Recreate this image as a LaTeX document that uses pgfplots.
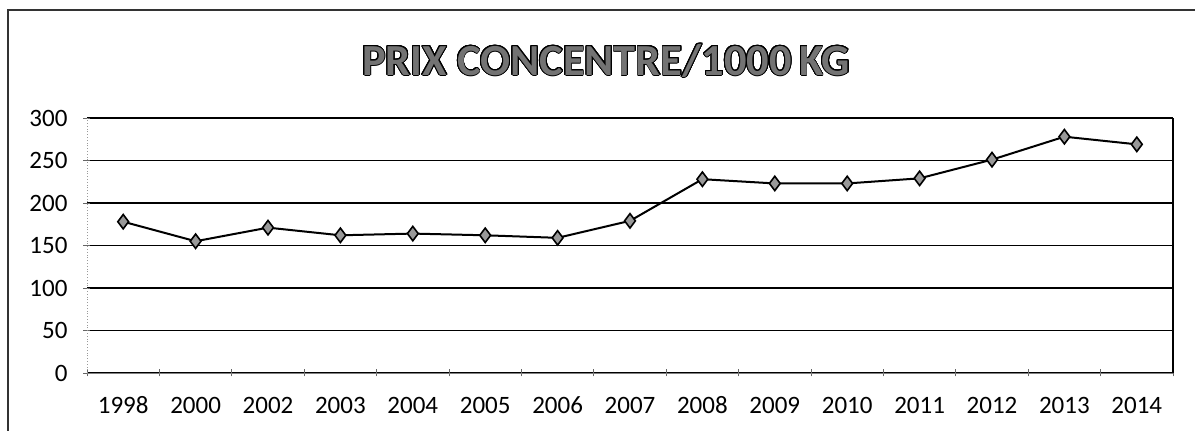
\documentclass[border=0pt]{standalone}
\usepackage{pgfplots}
\pgfplotsset{compat=1.18}
\usepackage{fontspec}
\setmainfont{Carlito}
\usepackage{contour}
\contourlength{0.45pt}
\contournumber{24}
\begin{document}
\begin{tikzpicture}
\useasboundingbox (0,0) rectangle (597.5pt,215.5pt);
\draw[line width=0.8pt, black!80] (4pt,0) -- (4pt,210.5pt) -- (597.5pt,210.5pt);
\node[font=\bfseries\fontsize{22.2}{24}\selectfont, inner sep=0pt] at (303pt,185pt) {\contour{black}{\textcolor{black!55}{PRIX CONCENTRE/1000\,KG}}};
\begin{axis}[
  at={(43.5pt,29pt)}, anchor=south west,
  scale only axis, width=543pt, height=127.5pt,
  xmin=-0.5, xmax=14.5, ymin=0, ymax=300,
  xtick={0,...,14},
  xticklabels={1998,2000,2002,2003,2004,2005,2006,2007,2008,2009,2010,2011,2012,2013,2014},
  minor xtick={-0.5,0.5,...,14.5},
  major x tick style={draw=none},
  minor x tick style={black!60, thin},
  ytick={0,50,...,300},
  tick align=outside,
  major tick length=3.5pt, minor tick length=3.5pt,
  ymajorgrids, grid style={black, line width=0.8pt},
  axis lines=left, axis line style={black!50, thin, -},
  y axis line style={black!40, densely dotted},
  ytick style={black!60, thin},
  tick label style={font=\fontsize{12.5}{14}\selectfont},
  /pgf/number format/assume math mode=true,
  yticklabel style={xshift=-4.5pt},
  xticklabel style={text height=9pt, text depth=0pt, yshift=-6pt},
  after end axis/.code={\draw[black, line width=0.8pt] (rel axis cs:1,0) -- (rel axis cs:1,1);},
  clip=false,
]
\addplot[black, line width=1pt, mark=diamond*, mark size=3.6pt, mark options={fill=black!40, draw=black, line width=0.8pt}] coordinates {
(0,178) (1,155) (2,171) (3,162) (4,164) (5,162) (6,159) (7,179)
(8,228) (9,223) (10,223) (11,229) (12,251) (13,278) (14,269)
};
\end{axis}
\end{tikzpicture}
\end{document}
